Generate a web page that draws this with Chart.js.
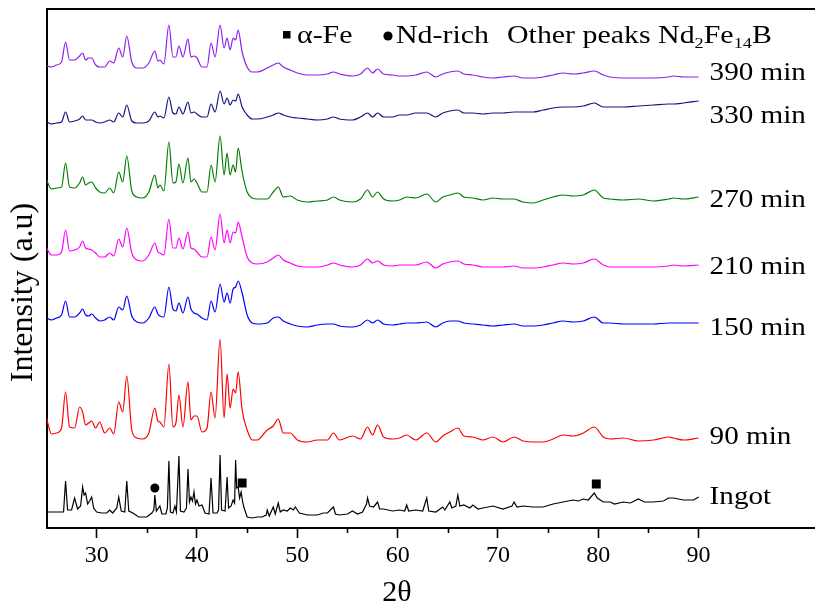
<!DOCTYPE html>
<html>
<head>
<meta charset="utf-8">
<script src="https://cdn.jsdelivr.net/npm/chart.js@4.4.1/dist/chart.umd.min.js"></script>
<style>
  html, body { margin: 0; padding: 0; background: #fff; }
  #wrap { width: 815px; height: 611px; position: relative; }
</style>
</head>
<body>
<div id="wrap"><canvas id="xrd"></canvas></div>
<script>
// 2-theta positions (degrees) shared by the milled patterns
const twoTheta = [
  25.0, 25.5, 26.0, 26.5, 26.9, 27.3, 27.8, 28.3, 28.6, 28.9,
  29.2, 29.5, 29.9, 30.3, 30.8, 31.3, 31.7, 32.2, 32.6, 33.0,
  33.5, 34.0, 34.6, 35.2, 35.8, 36.1, 36.3, 36.7, 37.2, 37.6,
  37.9, 38.2, 38.6, 39.1, 39.4, 39.7, 40.0, 40.5, 41.0, 41.4,
  41.8, 42.3, 42.7, 43.0, 43.3, 43.6, 43.85, 44.1, 44.5, 45.0,
  45.5, 46.0,
  47.0, 47.6, 48.1, 48.6, 49.3, 50.0, 51.0, 52.0, 53.0, 53.6,
  54.2, 55.5, 56.3, 57.0, 57.5, 58.0, 58.6, 59.5, 60.2,
  60.9, 61.8, 62.9, 63.8, 64.5, 65.2, 66.0, 66.6, 67.5, 68.5,
  69.5, 70.5, 71.6, 72.5, 73.5, 74.5, 75.5, 76.5, 77.5, 78.5,
  79.6, 80.5, 81.2, 82.5, 84.0, 85.5, 87.0, 87.5, 88.5, 90.0
];

// the ingot has sharp peaks, so it keeps its own finer 2-theta list
const ingotTheta = [
  25.0, 26.0, 26.7, 26.9, 27.1, 27.5, 27.8, 28.1, 28.4, 28.6,
  28.75, 28.9, 29.1, 29.3, 29.5, 29.7, 30.0, 30.5, 31.0, 31.3,
  31.6, 32.0, 32.2, 32.45, 32.8, 33.0, 33.2, 33.6, 34.2, 35.0,
  35.5, 35.7, 35.8, 35.95, 36.3, 36.5, 36.9, 37.05, 37.2, 37.35,
  37.6, 37.8, 37.95, 38.2, 38.35, 38.7, 38.95, 39.1, 39.25, 39.4,
  39.55, 39.7, 39.85, 40.0, 40.2, 40.5, 40.8, 41.2, 41.4, 41.6,
  42.0, 42.15, 42.3, 42.45, 42.8, 43.0, 43.15, 43.4, 43.6, 43.75,
  43.85, 43.95, 44.1, 44.25, 44.4, 44.55, 44.7, 45.0, 45.5, 46.0,
  46.5, 46.9, 47.0, 47.2, 47.6, 47.8, 48.1, 48.3, 48.6, 49.0,
  49.3, 49.6, 49.8, 50.2, 51.0, 52.0, 52.6, 53.0, 53.6, 53.8,
  54.2, 55.0, 55.5, 56.0, 56.5, 56.9, 57.0, 57.2, 57.6, 58.0,
  58.2, 58.6, 59.5, 60.2, 60.7, 60.9, 61.1, 61.8, 62.5, 62.9,
  63.1, 63.8, 64.5, 64.7, 65.2, 65.4, 65.8, 66.0, 66.2, 66.6,
  67.2, 67.5, 68.0, 68.5, 69.5, 70.5, 71.4, 71.6, 71.9, 72.5,
  73.5, 74.5, 75.5, 76.0, 76.5, 77.0, 77.5, 78.0, 78.5, 79.0,
  79.6, 79.9, 80.5, 81.2, 81.6, 82.5, 83.2, 84.0, 84.6, 85.5,
  86.5, 87.0, 87.5, 88.5, 89.5, 90.0
];

const seriesNames = ['Ingot', '90 min', '150 min', '210 min', '270 min', '330 min', '390 min'];

// intensities (a.u.), already stacked one above the other
const ingot = [
  16, 16, 16, 47, 18, 18, 30, 19, 22, 41,
  33, 35, 24, 27, 31, 20, 16, 15, 15, 18,
  15, 20, 31, 17, 16, 47, 17, 15, 11, 11,
  15, 18, 33, 17, 22, 14, 14, 20, 67, 16,
  15, 22, 16, 72, 17, 16, 20, 59, 26, 31,
  27, 36, 24, 28, 22, 23, 15, 14, 50, 15,
  15, 18, 73, 18, 17, 51, 20, 22, 28, 25,
  68, 40, 41, 30, 36, 26, 20, 11, 10, 11,
  11, 13, 18, 12, 21, 14, 25, 16, 18, 17,
  20, 18, 21, 15, 13, 13, 15, 15, 21, 14,
  13, 14, 17, 14, 16, 24, 30, 22, 21, 26,
  19, 19, 17, 18, 17, 23, 17, 18, 17, 30,
  17, 16, 21, 18, 26, 20, 22, 33, 22, 23,
  20, 23, 19, 20, 22, 19, 22, 26, 21, 22,
  21, 21, 24, 25, 26, 27, 28, 27, 29, 28,
  35, 30, 26, 26, 24, 26, 25, 29, 26, 26,
  27, 30, 30, 28, 28, 31
];
const min90 = [
  110, 94, 95, 100, 136, 101, 100, 121, 116, 103, 105, 107, 100, 106, 95, 100, 94, 126, 116, 152,
  98, 90, 89, 95, 120, 107, 106, 101, 164, 101, 105, 133, 101, 146, 108, 112, 112, 96, 100, 136,
  110, 189, 110, 154, 120, 139, 135, 156, 118, 98, 88, 88,
  98, 102, 109, 95, 95, 88, 86, 88, 88, 95, 88, 92, 89, 101, 93, 103, 91, 89, 90,
  93, 88, 95, 86, 92, 96, 100, 92, 91, 88, 91, 86, 91, 87, 86, 86, 89, 93, 92, 95,
  101, 91, 89, 90, 87, 88, 91, 90, 88, 90
];
const min150 = [
  210, 208, 210, 213, 227, 211, 211, 215, 219, 213, 212, 214, 210, 207, 208, 211, 208, 221, 218, 232,
  212, 206, 205, 210, 221, 214, 212, 211, 241, 219, 217, 225, 215, 231, 219, 215, 214, 210, 208, 227,
  216, 244, 226, 235, 225, 239, 241, 247, 235, 213, 205, 204,
  205, 210, 211, 207, 204, 202, 201, 203, 204, 204, 202, 201, 203, 208, 205, 208, 204, 203, 204,
  205, 205, 206, 201, 205, 207, 207, 205, 204, 203, 202, 203, 204, 202, 202, 203, 205, 207, 206, 207,
  211, 205, 205, 204, 204, 204, 205, 205, 205, 205
];
const min210 = [
  280, 273, 273, 276, 298, 277, 278, 281, 287, 280, 279, 278, 275, 271, 271, 275, 272, 289, 281, 300,
  275, 268, 267, 273, 285, 276, 275, 273, 309, 280, 280, 290, 279, 296, 280, 279, 276, 271, 271, 291,
  278, 314, 285, 298, 285, 296, 295, 306, 291, 271, 265, 264,
  266, 270, 273, 268, 265, 262, 261, 261, 263, 265, 263, 261, 263, 269, 265, 267, 263, 262, 263,
  263, 263, 266, 260, 264, 266, 267, 264, 263, 261, 261, 261, 262, 260, 260, 261, 263, 265, 264, 265,
  269, 263, 261, 261, 261, 261, 262, 263, 262, 263
];
const min270 = [
  348, 339, 340, 341, 365, 341, 340, 345, 351, 343, 345, 346, 340, 336, 335, 340, 335, 356, 346, 372,
  337, 331, 330, 336, 353, 340, 343, 337, 386, 345, 346, 364, 345, 370, 346, 349, 345, 336, 336, 363,
  346, 392, 353, 375, 353, 363, 356, 380, 356, 336, 330, 329,
  329, 336, 341, 331, 332, 328, 326, 327, 328, 331, 328, 326, 329, 338, 331, 336, 329, 327, 328,
  331, 330, 334, 326, 331, 333, 335, 331, 330, 328, 330, 329, 329, 326, 325, 328, 331, 333, 332, 333,
  338, 330, 329, 328, 329, 327, 329, 330, 329, 331
];
const min330 = [
  406, 404, 405, 406, 416, 406, 407, 409, 412, 408, 408, 408, 406, 405, 406, 408, 406, 415, 411, 423,
  407, 405, 405, 407, 416, 411, 412, 410, 431, 415, 414, 421, 414, 426, 415, 416, 414, 411, 411, 424,
  416, 437, 424, 430, 423, 428, 427, 434, 421, 413, 409, 409,
  411, 413, 415, 413, 411, 410, 409, 408, 409, 411, 409, 408, 411, 415, 411, 415, 411, 411, 413,
  413, 415, 415, 411, 415, 417, 418, 415, 415, 414, 415, 415, 416, 416, 416, 418, 420, 421, 421, 422,
  425, 421, 421, 421, 422, 423, 424, 424, 425, 427
];
const min390 = [
  462, 461, 463, 466, 486, 468, 468, 472, 475, 468, 470, 470, 463, 461, 461, 467, 465, 480, 471, 492,
  466, 460, 460, 465, 477, 467, 468, 464, 503, 471, 471, 482, 471, 489, 471, 472, 470, 461, 461, 485,
  471, 503, 480, 490, 478, 490, 488, 498, 476, 461, 456, 456,
  460, 463, 465, 461, 458, 455, 453, 453, 454, 456, 454, 452, 454, 460, 455, 459, 454, 453, 452,
  452, 453, 456, 451, 454, 456, 457, 454, 453, 451, 450, 451, 452, 450, 450, 451, 453, 455, 454, 455,
  457, 453, 451, 450, 450, 450, 451, 452, 451, 451
];

// phase markers on the ingot pattern
const markerTheta = [35.8, 44.5, 79.8];
const markerLevel = [40, 45, 44];
const markerPhase = ['Nd-rich', 'α-Fe', 'α-Fe'];

const xTicks = [30, 40, 50, 60, 70, 80, 90];
const xMinorTicks = [35, 45, 55, 65, 75, 85];

const patterns = [ingot, min90, min150, min210, min270, min330, min390];
const colors = ['#000000', '#ff0000', '#0000ff', '#ff00ff', '#008000', '#16167f', '#8c1ef0'];
const labelNudge = [0, -1, 5, 2, 3, 15, -4];

const serif = "'Liberation Serif', 'Times New Roman', Times, serif";
Chart.defaults.font.family = serif;
Chart.defaults.color = '#000';

function drawWide(ctx, text, x, y, sx) {
  ctx.save();
  ctx.translate(x, y);
  ctx.scale(sx, 1);
  ctx.fillText(text, 0, 0);
  ctx.restore();
  return ctx.measureText(text).width * sx;
}

const annotations = {
  id: 'annotations',
  afterDraw(chart) {
    const ctx = chart.ctx;
    const xs = chart.scales.x, ys = chart.scales.y;
    const area = chart.chartArea;
    ctx.save();
    ctx.fillStyle = '#000';
    ctx.strokeStyle = '#000';

    // minor ticks
    ctx.lineWidth = 1.6;
    xMinorTicks.forEach(v => {
      const px = Math.round(xs.getPixelForValue(v)) + 0.5;
      ctx.beginPath();
      ctx.moveTo(px, area.bottom);
      ctx.lineTo(px, area.bottom + 5);
      ctx.stroke();
    });

    // series labels
    ctx.font = '26px ' + serif;
    ctx.textBaseline = 'middle';
    const lx = xs.getPixelForValue(90) + 11;
    patterns.forEach((p, i) => {
      const ly = ys.getPixelForValue(p[p.length - 1]) + labelNudge[i];
      drawWide(ctx, seriesNames[i], lx, ly, 1.12);
    });

    // phase key
    ctx.textBaseline = 'alphabetic';
    const big = '24.5px ' + serif;
    const small = '15px ' + serif;
    const sx = 1.22;
    const base = 43;
    ctx.fillRect(283, 31, 7.5, 7.5);
    ctx.font = big;
    drawWide(ctx, 'α-Fe', 297, base, sx);
    ctx.beginPath();
    ctx.arc(388, 36, 4.6, 0, Math.PI * 2);
    ctx.fill();
    drawWide(ctx, 'Nd-rich', 396, base, sx);
    let x = 507;
    x += drawWide(ctx, 'Other peaks Nd', x, base, sx);
    ctx.font = small;
    x += drawWide(ctx, '2', x, base + 5, sx);
    ctx.font = big;
    x += drawWide(ctx, 'Fe', x, base, sx);
    ctx.font = small;
    x += drawWide(ctx, '14', x, base + 5, sx);
    ctx.font = big;
    drawWide(ctx, 'B', x, base, sx);
    ctx.restore();
  }
};

const datasets = patterns.map((p, i) => {
  const xsrc = i === 0 ? ingotTheta : twoTheta;
  return {
    type: 'line',
    label: seriesNames[i],
    data: xsrc.map((t, k) => ({ x: t, y: p[k] })),
    borderColor: colors[i],
    borderWidth: 1.2,
    pointRadius: 0,
    cubicInterpolationMode: i === 0 ? 'default' : 'monotone',
    tension: 0,
    fill: false
  };
});

datasets.push({
  type: 'scatter',
  label: 'phases',
  data: markerTheta.map((t, k) => ({ x: t, y: markerLevel[k], phase: markerPhase[k] })),
  backgroundColor: '#000',
  borderColor: '#000',
  borderWidth: 0,
  pointStyle: c => (c.raw && c.raw.phase === 'α-Fe') ? 'rect' : 'circle',
  pointRadius: c => (c.raw && c.raw.phase === 'α-Fe') ? 6.3 : 4.5,
  pointHoverRadius: 0
});

new Chart(document.getElementById('xrd'), {
  data: { datasets: datasets },
  options: {
    responsive: true,
    maintainAspectRatio: false,
    animation: false,
    events: [],
    layout: { autoPadding: false, padding: { top: 9, left: 0, right: 0, bottom: 0 } },
    plugins: {
      legend: { display: false },
      tooltip: { enabled: false }
    },
    scales: {
      x: {
        type: 'linear',
        position: 'bottom',
        min: 25,
        max: 101.6,
        afterBuildTicks: scale => {
          scale.ticks = xTicks.map(v => ({ value: v }));
        },
        afterFit: scale => { scale.height = 83; },
        ticks: {
          font: { size: 24 },
          padding: 3,
          maxRotation: 0,
          autoSkip: false,
          callback: v => v
        },
        grid: {
          display: true,
          drawOnChartArea: false,
          drawTicks: true,
          tickLength: 10,
          tickWidth: 1.6,
          tickColor: '#000'
        },
        border: { display: true, color: '#000', width: 2 },
        title: {
          display: true,
          // trailing spaces pull the centred title left, under the data range
          text: '2θ         ',
          font: { size: 30 },
          padding: { top: 4, bottom: 0 }
        }
      },
      xTop: {
        type: 'linear',
        position: 'top',
        display: true,
        afterFit: scale => { scale.height = 0; },
        ticks: { display: false },
        grid: { display: false, drawTicks: false },
        border: { display: true, color: '#000', width: 2 }
      },
      y: {
        type: 'linear',
        position: 'left',
        min: 0,
        max: 519,
        afterFit: scale => { scale.width = 46.5; },
        ticks: { display: false },
        grid: { display: false, drawTicks: false },
        border: { display: true, color: '#000', width: 2 },
        title: {
          display: true,
          text: 'Intensity (a.u)      ',
          font: { size: 32 },
          padding: { top: 4, bottom: 4 }
        }
      }
    }
  },
  plugins: [annotations]
});
</script>
</body>
</html>
